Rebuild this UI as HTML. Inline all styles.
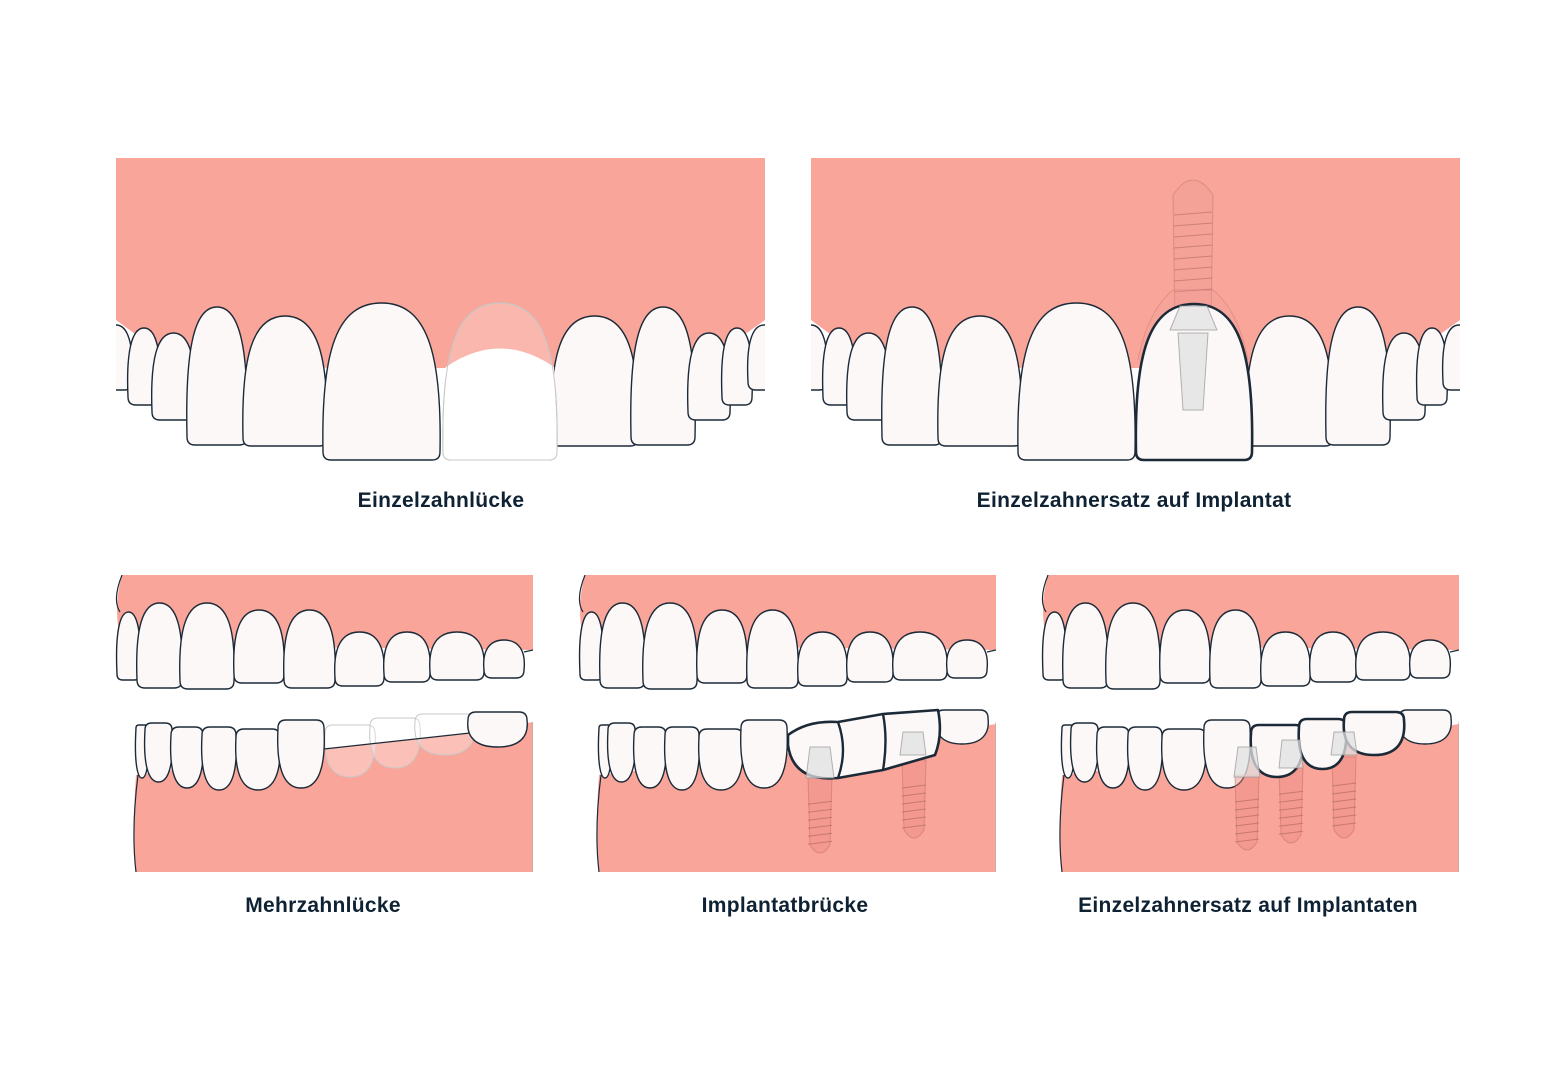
<!DOCTYPE html>
<html><head><meta charset="utf-8"><style>
html,body{margin:0;padding:0;background:#fff;}
body{width:1561px;height:1080px;position:relative;overflow:hidden;font-family:"Liberation Sans",sans-serif;}
svg{position:absolute;left:0;top:0;}
.lbl{position:absolute;transform:translateX(-50%);font-size:21px;font-weight:bold;color:#0f2233;white-space:nowrap;letter-spacing:0.3px;}
</style></head><body>
<svg id="s" width="1561" height="1080" viewBox="0 0 1561 1080"></svg>
<div class="lbl" style="left:441px;top:489px">Einzelzahnlücke</div>
<div class="lbl" style="left:1134px;top:489px">Einzelzahnersatz auf Implantat</div>
<div class="lbl" style="left:323px;top:894px">Mehrzahnlücke</div>
<div class="lbl" style="left:785px;top:894px">Implantatbrücke</div>
<div class="lbl" style="left:1248px;top:894px">Einzelzahnersatz auf Implantaten</div>
<script>
const S=document.getElementById('s');let h='';
const GUM='#f9a59a',TF='#fcf8f7',ST='#1c2a38';
function up(L,R,T,B){const w=R-L,c=Math.min(8,w/4);return `M${L},${B-c} C${L-2},${T+(B-T)*0.3} ${L+w*0.12},${T} ${L+w*0.5},${T} C${R-w*0.12},${T} ${R+2},${T+(B-T)*0.3} ${R},${B-c} Q${R},${B} ${R-c},${B} L${L+c},${B} Q${L},${B} ${L},${B-c}Z`;}
function dn(L,R,T,B){const w=R-L,c=Math.min(8,w/4);return `M${L},${T+c} C${L-2},${B-(B-T)*0.3} ${L+w*0.12},${B} ${L+w*0.5},${B} C${R-w*0.12},${B} ${R+2},${B-(B-T)*0.3} ${R},${T+c} Q${R},${T} ${R-c},${T} L${L+c},${T} Q${L},${T} ${L},${T+c}Z`;}
function P(d,f,s,sw,extra){h+=`<path d="${d}" fill="${f}" stroke="${s}" stroke-width="${sw}" ${extra||''}/>`;}
function T(d,bold){P(d,TF,ST,bold?2.6:1.4,'stroke-linejoin="round"');}
function screw(cx,top,bot,w){
  P(`M${cx-w/2},${top} L${cx+w/2},${top} L${cx+w/2-2},${bot-10} Q${cx},${bot+6} ${cx-w/2+2},${bot-10}Z`,'rgba(235,140,130,0.45)','rgba(190,110,100,0.5)',1);
  for(let y=top+(bot-top)*0.35;y<bot-8;y+=8){h+=`<line x1="${cx-w/2}" y1="${y}" x2="${cx+w/2}" y2="${y-3}" stroke="rgba(170,100,95,0.6)" stroke-width="1"/>`;}
}
function abut(cx,top,bot,wt,wb){P(`M${cx-wt/2},${top} L${cx+wt/2},${top} L${cx+wb/2},${bot} L${cx-wb/2},${bot}Z`,'rgba(225,225,225,0.75)','rgba(150,150,150,0.7)',1);}
function topPanel(ox,implant){
  h+=`<g><clipPath id="c${ox}"><rect x="${116+ox}" y="158" width="649" height="310"/></clipPath><g clip-path="url(#c${ox})">`;
  const X=x=>x+ox;
  P(`M${X(116)},158 L${X(765)},158 L${X(765)},320 L${X(730)},345 L${X(640)},362 L${X(555)},368 Q${X(500)},330 ${X(445)},368 L${X(330)},368 L${X(240)},362 L${X(150)},345 L${X(116)},320Z`,GUM,'none',0);
  const teeth=[[100,132,325,390],[128,160,328,405],[152,195,333,420],[187,247,307,445],[243,327,316,446],[323,440,303,460],[551,638,316,446],[631,695,307,445],[688,730,333,420],[722,752,328,405],[748,780,325,390]];
  if(implant){
    const cx=X(498);
    P(`M${cx-18},330 L${cx-20},195 Q${cx},165 ${cx+20},195 L${cx+18},330Z`,'rgba(240,160,150,0.5)','rgba(190,110,100,0.45)',1);
    for(let y=212;y<300;y+=11){h+=`<line x1="${cx-19}" y1="${y+3}" x2="${cx+19}" y2="${y}" stroke="rgba(170,100,95,0.55)" stroke-width="1"/>`;}
    P(`M${cx-55},360 Q${cx-45},310 ${cx-20},290 L${cx+20},290 Q${cx+45},310 ${cx+55},360`,'rgba(240,160,150,0.25)','rgba(190,110,100,0.35)',1);
  }
  teeth.forEach(t=>T(up(X(t[0]),X(t[1]),t[2],t[3])));
  if(!implant){
    P(up(X(443),X(557),303,460),'rgba(255,255,255,0.2)','#bbb',1);
    P(`M${X(446)},367 Q${X(500)},330 ${X(554)},367 L${X(557)},452 Q${X(557)},460 ${X(549)},460 L${X(451)},460 Q${X(443)},460 ${X(443)},452Z`,'#fff','none',0);
    P(up(X(443),X(557),303,460),'none','#c8c8c8',1);
  } else {
    T(up(X(441),X(557),304,460),true);
    abut(X(498),333,410,30,20);
    P(`M${X(475)},330 L${X(485)},306 L${X(512)},306 L${X(522)},330Z`,'rgba(225,225,225,0.7)','rgba(150,150,150,0.7)',1);
  }
  h+='</g></g>';
}
topPanel(0,false);topPanel(695,true);
function bottomPanel(ox,mode){
  const X=x=>x+ox;
  h+=`<clipPath id="b${ox}"><rect x="${X(112)}" y="575" width="${421}" height="297"/></clipPath><g clip-path="url(#b${ox})">`;
  P(`M${X(122)},575 L${X(533)},575 L${X(533)},650 L${X(122)},645 Q${X(112)},610 ${X(122)},575Z`,GUM,'none',0);
  h+=`<path d="M${X(122)},575 Q${X(112)},600 ${X(120)},612" fill="none" stroke="${ST}" stroke-width="1.2"/>`;
  const ut=[[117,140,612,680],[137,182,603,688],[180,234,603,689],[234,284,610,683],[284,335,610,688],[335,384,632,686],[384,430,632,682],[430,484,632,680],[484,524,640,678]];
  ut.forEach(t=>T(up(X(t[0]),X(t[1]),t[2],t[3])));
  h+=`<path d="M${X(524)},652 L${X(533)},650" stroke="${ST}" stroke-width="1.2"/>`;
  if(mode==='gap'){
    P(`M${X(136)},872 L${X(533)},872 L${X(533)},722 L${X(470)},733 L${X(324)},749 L${X(136)},775 Q${X(132)},830 ${X(136)},872Z`,GUM,'none',0);
  } else {
    P(`M${X(136)},872 L${X(533)},872 L${X(533)},724 L${X(470)},735 L${X(400)},745 L${X(136)},775 Q${X(132)},830 ${X(136)},872Z`,GUM,'none',0);
  }
  h+=`<path d="M${X(138)},775 Q${X(131)},830 ${X(136)},872" fill="none" stroke="${ST}" stroke-width="1.2"/>`;
  h+=`<path d="M${X(533)},722 L${X(533)},872" fill="none" stroke="#aaa" stroke-width="1"/>`;
  const lt=[[136,148,725,778],[145,172,723,782],[171,203,727,788],[202,236,727,790],[236,280,729,790],[278,324,720,788]];
  if(mode==='gap'){
    P(dn(X(325),X(375),725,777),'rgba(255,255,255,0.3)','#c8c8c8',1);
    P(dn(X(370),X(420),718,768),'rgba(255,255,255,0.3)','#c8c8c8',1);
    P(dn(X(415),X(475),714,755),'rgba(255,255,255,0.3)','#c8c8c8',1);
    lt.forEach(t=>T(dn(X(t[0]),X(t[1]),t[2],t[3])));
    h+=`<path d="M${X(324)},749 L${X(470)},733" stroke="${ST}" stroke-width="1.2"/>`;
    T(dn(X(468),X(527),712,747));
  } else {
    lt.forEach(t=>T(dn(X(t[0]),X(t[1]),t[2],t[3])));
    let imps = mode==='bridge'? [[357,752,855],[451,735,840]] : [[321,750,852],[365,742,845],[418,732,840]];
    imps.forEach(i=>screw(X(i[0]),i[1]+25,i[2],24));
    T(dn(X(473),X(525),710,744));
    if(mode==='bridge'){
      T(`M${X(325)},${735} Q${X(345)},720 ${X(375)},722 L${X(420)},714 L${X(475)},710 Q${X(480)},735 ${X(472)},755 L${X(420)},770 L${X(375)},778 Q${X(330)},782 ${X(325)},745Z`,true);
      h+=`<path d="M${X(375)},722 Q${X(385)},750 ${X(375)},778 M${X(420)},714 Q${X(425)},740 ${X(420)},770" fill="none" stroke="${ST}" stroke-width="2.4"/>`;
      abut(X(357),747,778,20,28);abut(X(450),732,755,20,26);
    } else {
      T(dn(X(325),X(377),725,777),true);
      T(dn(X(373),X(420),719,769),true);
      T(dn(X(418),X(478),712,755),true);
      abut(X(321),747,777,18,26);abut(X(365),740,768,18,24);abut(X(418),732,755,20,26);
    }
  }
  h+='</g>';
}
bottomPanel(0,'gap');bottomPanel(463,'bridge');bottomPanel(926,'single');
S.innerHTML=h;
</script>
</body></html>
